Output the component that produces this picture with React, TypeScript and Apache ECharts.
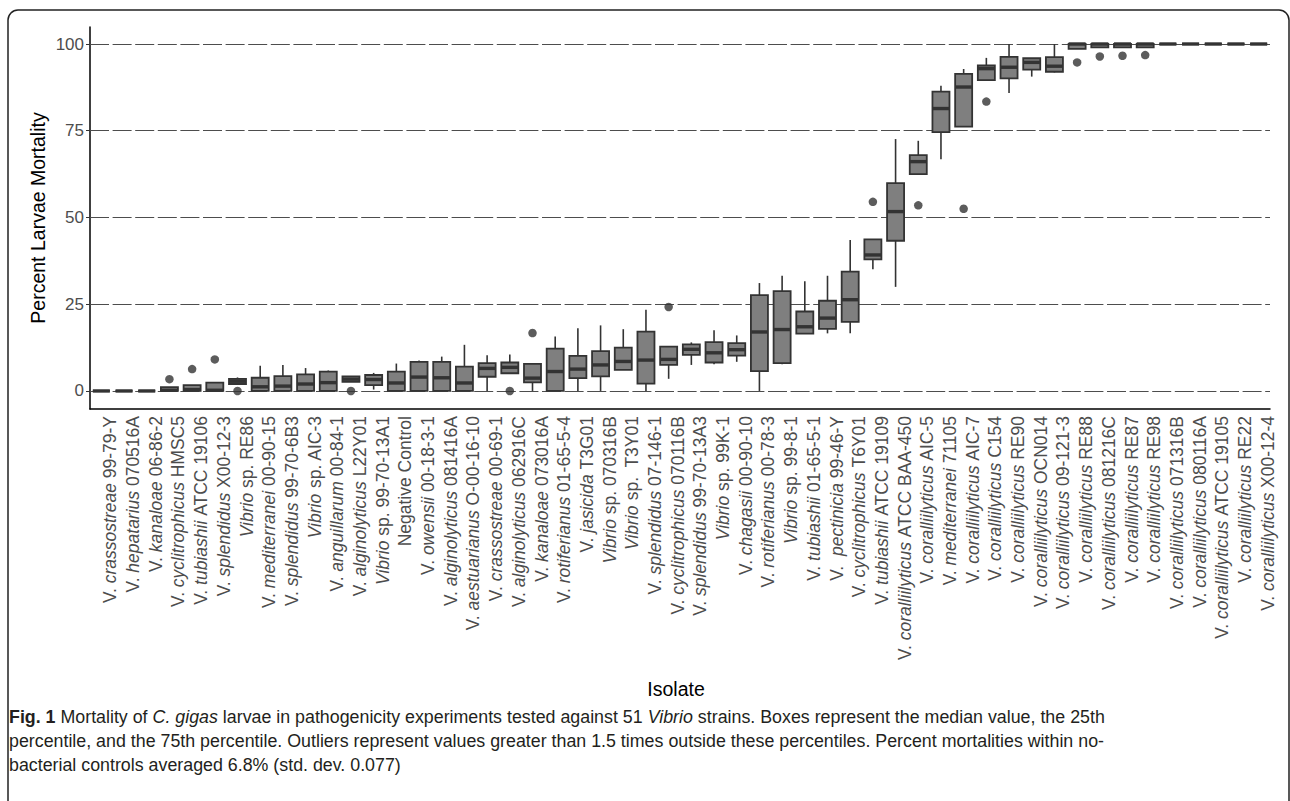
import React, { useEffect, useRef } from 'react';
import * as echarts from 'echarts';

// Isolate names; text between asterisks is italic
const isolates = [
  'V. *crassostreae* 99-79-Y',
  'V. *hepatarius* 070516A',
  'V. *kanaloae* 06-86-2',
  'V. *cyclitrophicus* HMSC5',
  'V. *tubiashii* ATCC 19106',
  'V. *splendidus* X00-12-3',
  '*Vibrio* sp. RE86',
  'V. *mediterranei* 00-90-15',
  'V. *splendidus* 99-70-6B3',
  '*Vibrio* sp. AIC-3',
  'V. *anguillarum* 00-84-1',
  'V. *alginolyticus* L22Y01',
  '*Vibrio* sp. 99-70-13A1',
  'Negative Control',
  'V. *owensii* 00-18-3-1',
  'V. *alginolyticus* 081416A',
  'V. *aestuarianus* O-00-16-10',
  'V. *crassostreae* 00-69-1',
  'V. *alginolyticus* 062916C',
  'V. *kanaloae* 073016A',
  'V. *rotiferianus* 01-65-5-4',
  'V. *jasicida* T3G01',
  '*Vibrio* sp. 070316B',
  '*Vibrio* sp.  T3Y01',
  'V. *splendidus* 07-146-1',
  'V. *cyclitrophicus* 070116B',
  'V. *splendidus* 99-70-13A3',
  '*Vibrio* sp. 99K-1',
  'V. *chagasii* 00-90-10',
  'V. *rotiferianus* 00-78-3',
  '*Vibrio* sp. 99-8-1',
  'V. *tubiashii* 01-65-5-1',
  'V.  *pectinicia* 99-46-Y',
  'V. *cyclitrophicus* T6Y01',
  'V. *tubiashii* ATCC 19109',
  'V. *coralliilyticus* ATCC BAA-450',
  'V. *coralliilyticus* AIC-5',
  'V. *mediterranei* 71105',
  'V. *coralliilyticus* AIC-7',
  'V. *coralliilyticus* C154',
  'V. *coralliilyticus* RE90',
  'V. *coralliilyticus* OCN014',
  'V. *coralliilyticus* 09-121-3',
  'V. *coralliilyticus* RE88',
  'V. *coralliilyticus* 081216C',
  'V. *coralliilyticus* RE87',
  'V. *coralliilyticus* RE98',
  'V. *coralliilyticus* 071316B',
  'V. *coralliilyticus* 080116A',
  'V. *coralliilyticus* ATCC 19105',
  'V. *coralliilyticus* RE22',
  'V. *coralliilyticus* X00-12-4',
];

const whiskerLow = [
  0, 0, 0, 0, 0, 0, 2.0, 0, 0, 0, 0, 2.6, 0.4, 0, 0, 0, 0, 0, 5.1, 0, 0, 0, 0, 6.1, 0, 3.5,
  7.5, 7.7, 8.4, 0, 7.7, 16.5, 16.6, 16.6, 35.1, 30.0, 62.5, 66.8, 76.2, 89.6, 85.9, 90.6, 91.8,
  98.6, 99.0, 99.0, 99.0, 100, 100, 100, 100, 100,
];
const q1 = [
  0, 0, 0, 0, 0, 0, 2.0, 0, 0, 0, 0, 2.6, 1.7, 0, 0, 0, 0, 4.1, 5.1, 2.5, 0, 3.7, 4.2, 6.1, 2.1, 7.5,
  10.4, 8.2, 10.2, 5.7, 8.0, 16.5, 17.9, 19.9, 37.9, 43.3, 62.5, 74.6, 76.2, 89.6, 90.1, 92.6, 92.0,
  98.6, 99.0, 99.0, 99.0, 100, 100, 100, 100, 100,
];
const median = [
  0, 0, 0, 0.2, 0.4, 0.2, 2.8, 1.2, 1.4, 2.0, 2.4, 3.4, 3.3, 2.3, 4.0, 3.8, 2.3, 6.5, 6.8, 3.7, 5.6, 6.3, 7.5, 8.5, 8.9, 9.1,
  12.0, 11.0, 11.9, 17.0, 17.7, 18.5, 21.0, 26.3, 39.2, 51.7, 66.1, 81.4, 87.6, 92.9, 93.3, 94.7, 93.6,
  100, 100, 100, 100, 100, 100, 100, 100, 100,
];
const q3 = [
  0, 0, 0, 1.1, 1.7, 2.4, 3.5, 3.8, 4.3, 4.8, 5.6, 4.2, 4.6, 5.6, 8.4, 8.4, 7.0, 8.0, 8.2, 7.8, 12.2, 10.1, 11.5, 12.5, 17.1, 12.8,
  13.4, 14.1, 13.8, 27.6, 28.8, 22.9, 26.0, 34.4, 43.7, 59.9, 68.0, 86.3, 91.4, 93.8, 96.3, 95.9, 96.2,
  100, 100, 100, 100, 100, 100, 100, 100, 100,
];
const whiskerHigh = [
  0, 0, 0, 1.1, 1.7, 2.4, 3.9, 7.3, 7.5, 6.6, 5.9, 4.2, 5.2, 7.9, 8.8, 9.9, 13.3, 10.3, 10.5, 7.8, 15.7, 18.1, 18.9, 17.8, 23.4, 12.8,
  14.0, 17.5, 16.0, 31.1, 33.2, 31.6, 33.2, 43.5, 43.7, 72.6, 72.1, 88.0, 92.8, 96.0, 100, 95.9, 100,
  100, 100, 100, 100, 100, 100, 100, 100, 100,
];

// Outliers: isolate index and value
const outlierIsolate = [3, 4, 5, 6, 11, 18, 19, 25, 34, 36, 38, 39, 43, 44, 45, 46];
const outlierValue = [3.4, 6.3, 9.1, 0, 0, 0, 16.7, 24.2, 54.5, 53.5, 52.5, 83.4, 94.7, 96.4, 96.6, 96.8];

const yTicks = [0, 25, 50, 75, 100];

const captionLines = [
  '{b|Fig. 1} Mortality of {i|C. gigas} larvae in pathogenicity experiments tested against 51 {i|Vibrio} strains. Boxes represent the median value, the 25th',
  'percentile, and the 75th percentile. Outliers represent values greater than 1.5 times outside these percentiles. Percent mortalities within no-',
  'bacterial controls averaged 6.8% (std. dev. 0.077)',
];

const AX_FONT = "'Liberation Sans', Arial, Helvetica, sans-serif";
const CAP_FONT = "'Liberation Sans Narrow', 'Liberation Sans', Arial, sans-serif";

const plainName = (s: string) => s.replace(/\*/g, '');
const richName = (s: string) =>
  s
    .split('*')
    .map((p, k) => (p === '' ? '' : k % 2 ? `{i|${p}}` : `{n|${p}}`))
    .join('');

export default function App() {
  const ref = useRef<HTMLDivElement>(null);

  useEffect(() => {
    if (!ref.current) return;
    const chart = echarts.init(ref.current, undefined, { renderer: 'svg' });

    const boxData = isolates.map((_, i) => [i, whiskerLow[i], q1[i], median[i], q3[i], whiskerHigh[i]]);
    const outData = outlierIsolate.map((idx, k) => [idx, outlierValue[k]]);
    const labelStyle = { fontSize: 17.5, color: '#4d4d4d', fontFamily: AX_FONT };
    const capSize = 18.5;

    chart.setOption({
      animation: false,
      backgroundColor: '#ffffff',
      grid: { left: 90, right: 20, top: 27, bottom: 392, containLabel: false },
      xAxis: {
        type: 'category',
        data: isolates.map(plainName),
        boundaryGap: true,
        axisLine: { onZero: false, lineStyle: { color: '#000', width: 1.5 } },
        axisTick: { alignWithLabel: true, interval: 0, length: 4, lineStyle: { color: '#333', width: 1 } },
        axisLabel: {
          interval: 0,
          rotate: 90,
          margin: 7,
          verticalAlign: 'top',
          ...labelStyle,
          formatter: (_v: string, idx: number) => richName(isolates[idx]),
          rich: {
            i: { ...labelStyle, fontStyle: 'italic' },
            n: { ...labelStyle, fontStyle: 'normal' },
          },
        },
        splitLine: { show: false },
      },
      yAxis: {
        type: 'value',
        min: -5.2,
        max: 104.9,
        axisLine: { show: true, lineStyle: { color: '#000', width: 1.5 } },
        axisTick: { show: true, length: 4, customValues: yTicks, lineStyle: { color: '#333', width: 1 } },
        axisLabel: { customValues: yTicks, fontSize: 17, color: '#4d4d4d', margin: 6, fontFamily: AX_FONT },
        splitLine: { show: false },
      },
      series: [
        {
          type: 'custom',
          name: 'boxes',
          z: 2,
          encode: { x: 0, y: [1, 2, 3, 4, 5] },
          data: boxData,
          renderItem: (_params: any, api: any) => {
            const i = api.value(0);
            const pLo = api.coord([i, api.value(1)]);
            const pQ1 = api.coord([i, api.value(2)]);
            const pMed = api.coord([i, api.value(3)]);
            const pQ3 = api.coord([i, api.value(4)]);
            const pHi = api.coord([i, api.value(5)]);
            const cx = pMed[0];
            const bw = api.size([1, 0])[0] * 0.75;
            const stroke = '#333333';
            return {
              type: 'group',
              children: [
                { type: 'line', shape: { x1: cx, y1: pHi[1], x2: cx, y2: pQ3[1] }, style: { stroke, lineWidth: 1.6 } },
                { type: 'line', shape: { x1: cx, y1: pQ1[1], x2: cx, y2: pLo[1] }, style: { stroke, lineWidth: 1.6 } },
                {
                  type: 'rect',
                  shape: { x: cx - bw / 2, y: pQ3[1], width: bw, height: pQ1[1] - pQ3[1] },
                  style: { fill: '#7f7f7f', stroke, lineWidth: 1.8 },
                },
                {
                  type: 'line',
                  shape: { x1: cx - bw / 2, y1: pMed[1], x2: cx + bw / 2, y2: pMed[1] },
                  style: { stroke, lineWidth: 3.4 },
                },
              ],
            };
          },
        },
        {
          type: 'scatter',
          name: 'outliers',
          z: 3,
          symbol: 'circle',
          symbolSize: 8.5,
          itemStyle: { color: '#333333' },
          data: outData,
          markLine: {
            silent: true,
            z: 1,
            symbol: 'none',
            label: { show: false },
            lineStyle: { type: [19, 3.6], color: '#4d4d4d', width: 1.1 },
            data: yTicks.map((v) => ({ yAxis: v })),
          },
        },
      ],
      graphic: [
        {
          type: 'rect',
          z: -1,
          shape: { x: 8, y: 10, width: 1281, height: 830, r: 10 },
          style: { fill: 'none', stroke: '#222', lineWidth: 1.5 },
        },
        {
          type: 'text',
          x: 38,
          y: 218,
          rotation: Math.PI / 2,
          style: {
            text: 'Percent Larvae Mortality',
            fontSize: 19.5,
            fontFamily: AX_FONT,
            fill: '#000',
            textAlign: 'center',
            textVerticalAlign: 'middle',
          },
        },
        {
          type: 'text',
          x: 676,
          y: 689,
          style: {
            text: 'Isolate',
            fontSize: 19.5,
            fontFamily: AX_FONT,
            fill: '#000',
            textAlign: 'center',
            textVerticalAlign: 'middle',
          },
        },
        ...captionLines.map((t, k) => ({
          type: 'text',
          x: 9,
          y: 717 + k * 24,
          scaleX: 0.963,
          style: {
            text: t,
            fontSize: capSize,
            fontFamily: CAP_FONT,
            fill: '#231f20',
            textAlign: 'left',
            textVerticalAlign: 'middle',
            rich: {
              b: { fontSize: capSize, fontFamily: CAP_FONT, fontWeight: 'bold', fill: '#231f20' },
              i: { fontSize: capSize, fontFamily: CAP_FONT, fontStyle: 'italic', fill: '#231f20' },
            },
          },
        })),
      ],
    });

    return () => chart.dispose();
  }, []);

  return (
    <div
      ref={ref}
      style={{ position: 'absolute', left: 0, top: 0, width: 1290, height: 801, background: '#fff' }}
    />
  );
}
